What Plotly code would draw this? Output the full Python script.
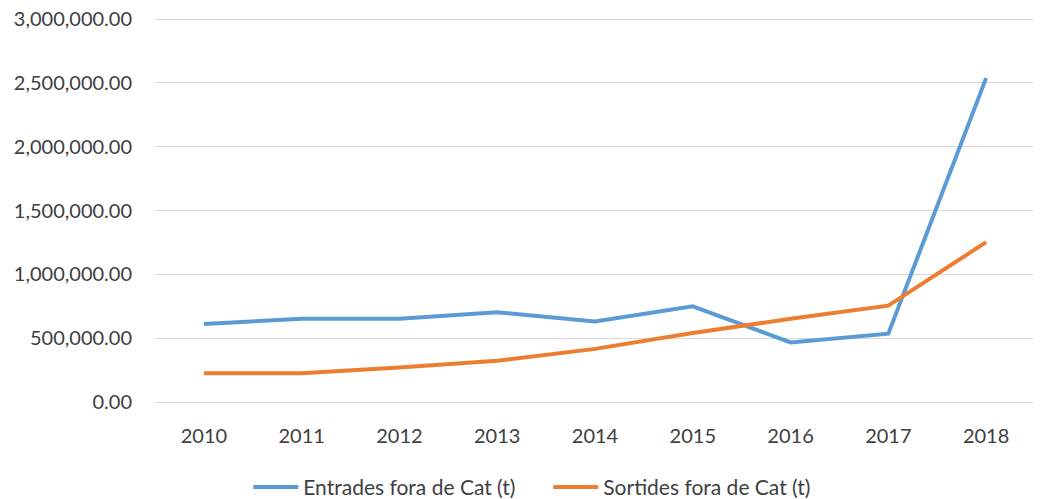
import plotly.graph_objects as go

years = ["2010", "2011", "2012", "2013", "2014", "2015", "2016", "2017", "2018"]
entrades = [611000, 653000, 653000, 703000, 631000, 750000, 467000, 535000, 2537000]
sortides = [225000, 225000, 270000, 323000, 416000, 541000, 652000, 755000, 1252000]

fig = go.Figure()
fig.add_trace(go.Scatter(x=years, y=entrades, mode="lines", name="Entrades fora de Cat (t)",
                         line=dict(color="#5B9BD5", width=4)))
fig.add_trace(go.Scatter(x=years, y=sortides, mode="lines", name="Sortides fora de Cat (t)",
                         line=dict(color="#ED7D31", width=4)))

font = dict(family="Lato, Open Sans, sans-serif", size=20, color="#404040")
lfont = dict(family="Lato, Open Sans, sans-serif", size=21, color="#404040")
fig.update_layout(
    width=1041, height=499,
    margin=dict(l=147, r=14, t=10, b=105, autoexpand=False),
    plot_bgcolor="white", paper_bgcolor="white",
    font=font,
    showlegend=True,
    legend=dict(orientation="h", x=0.106, xanchor="left", y=-0.222, yanchor="middle",
                font=lfont, itemwidth=45, entrywidth=240, tracegroupgap=0),
    xaxis=dict(type="category", range=[-0.5, 8.5], showgrid=False, showline=False,
               ticks="", tickfont=font, fixedrange=True, automargin=False,
               ticklabelstandoff=20),
    yaxis=dict(range=[0, 3008000], tickvals=[0, 500000, 1000000, 1500000, 2000000, 2500000, 3000000],
               tickformat=",.2f", showgrid=True,
               gridcolor="#D9D9D9", gridwidth=1, zeroline=True, zerolinecolor="#D9D9D9",
               zerolinewidth=1, showline=False, ticks="", ticklabelstandoff=22, tickfont=font,
               automargin=False, ticklabeloverflow="allow"),
)

fig.write_html("out.html")
